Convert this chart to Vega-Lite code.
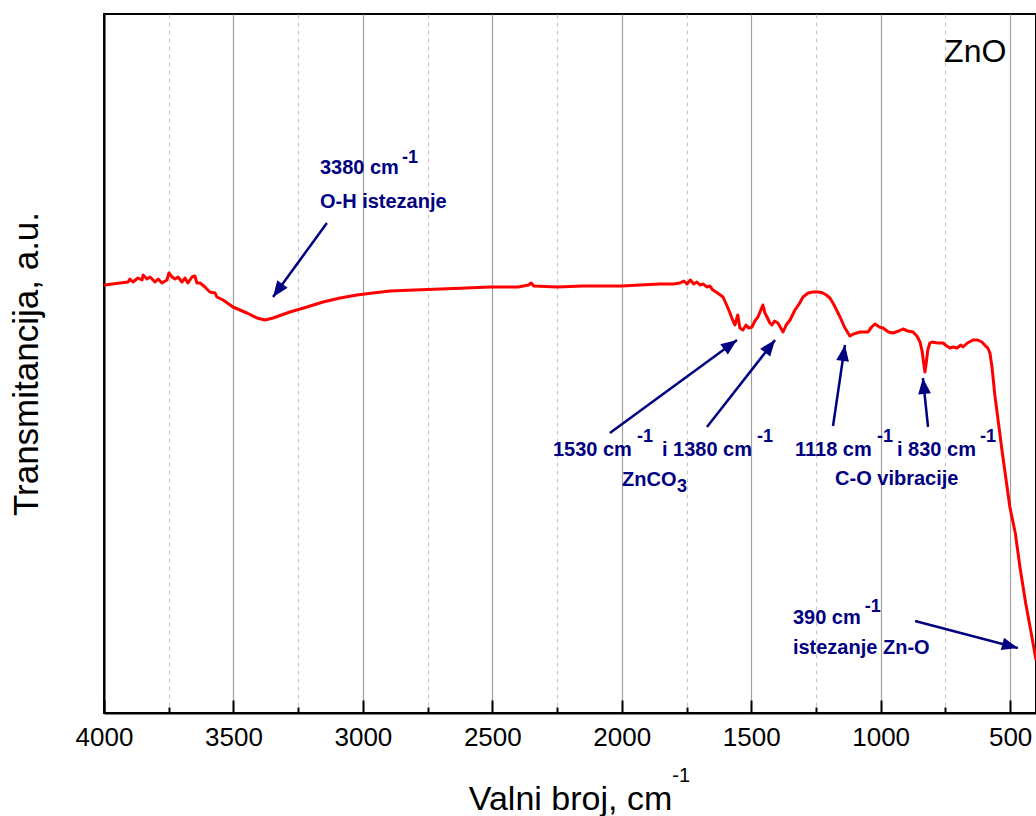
{
  "$schema": "https://vega.github.io/schema/vega-lite/v6.json",
  "autosize": {"type": "none"},
  "padding": {"left": 104, "top": 14, "right": 0, "bottom": 103},
  "width": 932,
  "height": 699,
  "background": "white",
  "config": {
    "view": {"stroke": "black", "strokeWidth": 2},
    "font": "Liberation Sans"
  },
  "datasets": {
    "spectrum": [
      {"w": 4000, "t": 428}, {"w": 3996, "t": 428}, {"w": 3938, "t": 430}, {"w": 3907, "t": 431}, {"w": 3900, "t": 434},
      {"w": 3888, "t": 431}, {"w": 3869, "t": 435}, {"w": 3853, "t": 433}, {"w": 3849, "t": 438}, {"w": 3834, "t": 434},
      {"w": 3822, "t": 436}, {"w": 3803, "t": 431}, {"w": 3791, "t": 434}, {"w": 3776, "t": 430}, {"w": 3757, "t": 433},
      {"w": 3749, "t": 440}, {"w": 3737, "t": 436}, {"w": 3726, "t": 434}, {"w": 3714, "t": 436}, {"w": 3699, "t": 431},
      {"w": 3687, "t": 435}, {"w": 3676, "t": 430}, {"w": 3660, "t": 436}, {"w": 3649, "t": 437}, {"w": 3641, "t": 430},
      {"w": 3629, "t": 430}, {"w": 3610, "t": 426}, {"w": 3591, "t": 421}, {"w": 3571, "t": 420}, {"w": 3564, "t": 416},
      {"w": 3540, "t": 413}, {"w": 3502, "t": 406}, {"w": 3448, "t": 400}, {"w": 3409, "t": 395}, {"w": 3378, "t": 393},
      {"w": 3347, "t": 395}, {"w": 3282, "t": 401}, {"w": 3216, "t": 406}, {"w": 3154, "t": 411}, {"w": 3088, "t": 415},
      {"w": 3023, "t": 418}, {"w": 2961, "t": 420}, {"w": 2895, "t": 422}, {"w": 2800, "t": 423}, {"w": 2700, "t": 424},
      {"w": 2600, "t": 425}, {"w": 2509, "t": 426}, {"w": 2400, "t": 426}, {"w": 2360, "t": 428}, {"w": 2350, "t": 430},
      {"w": 2340, "t": 427}, {"w": 2250, "t": 426}, {"w": 2150, "t": 427}, {"w": 2084, "t": 427}, {"w": 2000, "t": 427},
      {"w": 1930, "t": 428}, {"w": 1852, "t": 429}, {"w": 1800, "t": 429}, {"w": 1775, "t": 430}, {"w": 1760, "t": 432},
      {"w": 1748, "t": 429}, {"w": 1735, "t": 433}, {"w": 1722, "t": 429}, {"w": 1710, "t": 431}, {"w": 1698, "t": 428},
      {"w": 1685, "t": 429}, {"w": 1672, "t": 426}, {"w": 1660, "t": 427}, {"w": 1648, "t": 423}, {"w": 1630, "t": 420},
      {"w": 1609, "t": 416}, {"w": 1595, "t": 408}, {"w": 1582, "t": 400}, {"w": 1575, "t": 395}, {"w": 1563, "t": 388},
      {"w": 1552, "t": 398}, {"w": 1544, "t": 385}, {"w": 1532, "t": 383}, {"w": 1520, "t": 388}, {"w": 1510, "t": 385},
      {"w": 1497, "t": 386}, {"w": 1486, "t": 392}, {"w": 1474, "t": 396}, {"w": 1463, "t": 403}, {"w": 1455, "t": 408},
      {"w": 1447, "t": 400}, {"w": 1439, "t": 396}, {"w": 1428, "t": 390}, {"w": 1420, "t": 388}, {"w": 1410, "t": 392},
      {"w": 1397, "t": 390}, {"w": 1388, "t": 386}, {"w": 1377, "t": 381}, {"w": 1365, "t": 388}, {"w": 1350, "t": 393},
      {"w": 1331, "t": 403}, {"w": 1315, "t": 409}, {"w": 1300, "t": 416}, {"w": 1280, "t": 420}, {"w": 1261, "t": 421},
      {"w": 1240, "t": 421}, {"w": 1223, "t": 420}, {"w": 1210, "t": 418}, {"w": 1196, "t": 415}, {"w": 1180, "t": 408},
      {"w": 1157, "t": 396}, {"w": 1140, "t": 386}, {"w": 1119, "t": 377}, {"w": 1105, "t": 379}, {"w": 1080, "t": 381},
      {"w": 1060, "t": 381}, {"w": 1049, "t": 381}, {"w": 1035, "t": 386}, {"w": 1022, "t": 389}, {"w": 1005, "t": 386},
      {"w": 991, "t": 385}, {"w": 970, "t": 381}, {"w": 952, "t": 380}, {"w": 930, "t": 382}, {"w": 914, "t": 384},
      {"w": 895, "t": 382}, {"w": 875, "t": 381}, {"w": 860, "t": 377}, {"w": 848, "t": 371}, {"w": 840, "t": 362},
      {"w": 834, "t": 350}, {"w": 829, "t": 341}, {"w": 824, "t": 350}, {"w": 818, "t": 363}, {"w": 810, "t": 370},
      {"w": 802, "t": 371}, {"w": 780, "t": 370}, {"w": 759, "t": 370}, {"w": 745, "t": 367}, {"w": 732, "t": 365},
      {"w": 720, "t": 366}, {"w": 705, "t": 365}, {"w": 690, "t": 368}, {"w": 682, "t": 366}, {"w": 665, "t": 370},
      {"w": 643, "t": 373}, {"w": 625, "t": 373}, {"w": 609, "t": 371}, {"w": 595, "t": 367}, {"w": 586, "t": 365},
      {"w": 578, "t": 360}, {"w": 570, "t": 346}, {"w": 559, "t": 318}, {"w": 530, "t": 260}, {"w": 501, "t": 206},
      {"w": 480, "t": 180}, {"w": 462, "t": 146}, {"w": 440, "t": 110}, {"w": 420, "t": 82}, {"w": 400, "t": 53}
    ],
    "arrows": [
      {"w": 3347, "t": 416, "w2": 3139, "t2": 490},
      {"w": 1555, "t": 373, "w2": 2046, "t2": 280},
      {"w": 1408, "t": 373, "w2": 1671, "t2": 286},
      {"w": 1138, "t": 368, "w2": 1184, "t2": 287},
      {"w": 837, "t": 335, "w2": 817, "t2": 286},
      {"w": 470, "t": 65, "w2": 867, "t2": 92}
    ],
    "notes": [
      {"w": 3166, "t": 545, "text": "3380 cm", "role": "main"},
      {"w": 2849, "t": 555, "text": "-1", "role": "sup"},
      {"w": 3166, "t": 511, "text": "O-H istezanje", "role": "main"},
      {"w": 2266, "t": 263, "text": "1530 cm", "role": "main"},
      {"w": 1941, "t": 276, "text": "-1", "role": "sup"},
      {"w": 1845, "t": 263, "text": "i 1380 cm", "role": "main"},
      {"w": 1478, "t": 276, "text": "-1", "role": "sup"},
      {"w": 1999, "t": 233, "text": "ZnCO", "role": "main"},
      {"w": 1787, "t": 226, "text": "3", "role": "sup"},
      {"w": 1331, "t": 263, "text": "1118 cm", "role": "main"},
      {"w": 1014, "t": 276, "text": "-1", "role": "sup"},
      {"w": 937, "t": 263, "text": "i 830 cm", "role": "main"},
      {"w": 616, "t": 276, "text": "-1", "role": "sup"},
      {"w": 1176, "t": 234, "text": "C-O vibracije", "role": "main"},
      {"w": 1339, "t": 95, "text": "390 cm", "role": "main"},
      {"w": 1061, "t": 106, "text": "-1", "role": "sup"},
      {"w": 1339, "t": 65, "text": "istezanje Zn-O", "role": "main"},
      {"w": 755, "t": 661, "text": "ZnO", "role": "big"},
      {"w": 1805, "t": -63, "text": "-1", "role": "axsup"}
    ]
  },
  "layer": [
    {
      "data": {"name": "spectrum"},
      "mark": {"type": "line", "color": "#ff0000", "strokeWidth": 3, "strokeJoin": "round"},
      "encoding": {
        "x": {
          "field": "w", "type": "quantitative",
          "scale": {"domain": [4000, 400], "nice": false, "zero": false},
          "axis": {
            "title": "Valni broj, cm",
            "values": [4000, 3750, 3500, 3250, 3000, 2750, 2500, 2250, 2000, 1750, 1500, 1250, 1000, 750, 500],
            "format": "d",
            "labelExpr": "datum.value % 500 === 0 ? datum.label : ''",
            "labelFlush": false,
            "labelOverlap": false,
            "labelBound": false,
            "labelFont": "Liberation Sans",
            "labelFontSize": 26,
            "labelColor": "black",
            "labelPadding": 24,
            "grid": true,
            "gridColor": {"condition": {"test": "datum.value % 500 === 0", "value": "#a0a0a0"}, "value": "#c8c8c8"},
            "gridDash": {"condition": {"test": "datum.value % 500 === 0", "value": []}, "value": [4, 4]},
            "gridWidth": 1.2,
            "tickSize": {"condition": {"test": "datum.value % 500 === 0", "value": -13}, "value": -6},
            "tickColor": "black",
            "tickWidth": 2,
            "domainColor": "black",
            "domainWidth": 2,
            "titleFont": "Liberation Sans",
            "titleFontSize": 34,
            "titleFontWeight": "normal",
            "titleColor": "black",
            "titlePadding": 25
          }
        },
        "y": {
          "field": "t", "type": "quantitative",
          "scale": {"domain": [0, 699], "nice": false, "zero": false},
          "axis": {
            "title": "Transmitancija, a.u.",
            "ticks": false,
            "labels": false,
            "grid": false,
            "domainColor": "black",
            "domainWidth": 2,
            "titleFont": "Liberation Sans",
            "titleFontSize": 35,
            "titleFontWeight": "normal",
            "titleColor": "black",
            "titlePadding": 60
          }
        }
      }
    },
    {
      "data": {"name": "arrows"},
      "mark": {"type": "rule", "color": "#000080", "strokeWidth": 2.5},
      "encoding": {
        "x": {"field": "w", "type": "quantitative"},
        "x2": {"field": "w2"},
        "y": {"field": "t", "type": "quantitative"},
        "y2": {"field": "t2"}
      }
    },
    {
      "data": {"name": "arrows"},
      "transform": [
        {"calculate": "atan2((datum.w2 - datum.w) * 0.258889, (datum.t - datum.t2)) * 180 / PI", "as": "ang"}
      ],
      "mark": {"type": "point", "shape": "M0,0L-0.8,2L0.8,2Z", "filled": true, "color": "#000080", "size": 256, "opacity": 1, "strokeWidth": 0},
      "encoding": {
        "x": {"field": "w", "type": "quantitative"},
        "y": {"field": "t", "type": "quantitative"},
        "angle": {"field": "ang", "type": "quantitative", "scale": null}
      }
    },
    {
      "data": {"name": "notes"},
      "transform": [{"filter": "datum.role === 'main'"}],
      "mark": {"type": "text", "align": "left", "baseline": "middle", "font": "Liberation Sans", "fontWeight": "bold", "fontSize": 20, "color": "#000080"},
      "encoding": {
        "x": {"field": "w", "type": "quantitative"},
        "y": {"field": "t", "type": "quantitative"},
        "text": {"field": "text"}
      }
    },
    {
      "data": {"name": "notes"},
      "transform": [{"filter": "datum.role === 'sup'"}],
      "mark": {"type": "text", "align": "left", "baseline": "middle", "font": "Liberation Sans", "fontWeight": "bold", "fontSize": 18, "color": "#000080"},
      "encoding": {
        "x": {"field": "w", "type": "quantitative"},
        "y": {"field": "t", "type": "quantitative"},
        "text": {"field": "text"}
      }
    },
    {
      "data": {"name": "notes"},
      "transform": [{"filter": "datum.role === 'big'"}],
      "mark": {"type": "text", "align": "left", "baseline": "middle", "font": "Liberation Sans", "fontSize": 32, "color": "black"},
      "encoding": {
        "x": {"field": "w", "type": "quantitative"},
        "y": {"field": "t", "type": "quantitative"},
        "text": {"field": "text"}
      }
    },
    {
      "data": {"name": "notes"},
      "transform": [{"filter": "datum.role === 'axsup'"}],
      "mark": {"type": "text", "align": "left", "baseline": "middle", "font": "Liberation Sans", "fontSize": 20, "color": "black"},
      "encoding": {
        "x": {"field": "w", "type": "quantitative"},
        "y": {"field": "t", "type": "quantitative"},
        "text": {"field": "text"}
      }
    }
  ]
}
